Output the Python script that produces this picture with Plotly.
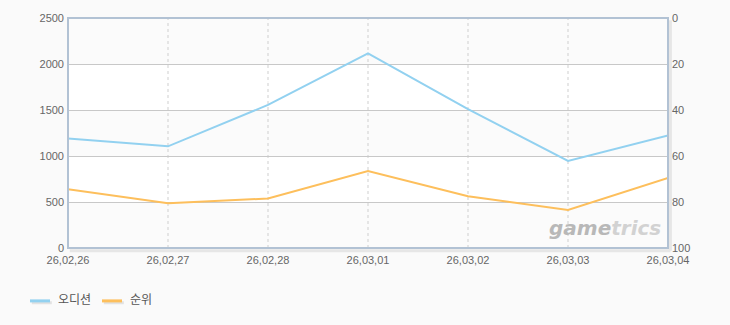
import plotly.graph_objects as go

dates = ["26,02,26", "26,02,27", "26,02,28", "26,03,01", "26,03,02", "26,03,03", "26,03,04"]
audition = [1190, 1105, 1555, 2115, 1510, 947, 1224]
rank = [74.5, 80.5, 78.5, 66.5, 77.5, 83.5, 69.5]
series_names = ["오디션", "순위"]
colors = ["#92d1f0", "#fdbf5c"]
left_ticks = [0, 500, 1000, 1500, 2000, 2500]
right_ticks = [0, 20, 40, 60, 80, 100]

xs = list(range(len(dates)))
font = "Liberation Sans, Noto Sans CJK KR, sans-serif"

fig = go.Figure()
fig.add_trace(go.Scatter(x=xs, y=audition, mode="lines", name=series_names[0],
                         line=dict(color=colors[0], width=2), yaxis="y"))
fig.add_trace(go.Scatter(x=xs, y=rank, mode="lines", name=series_names[1],
                         line=dict(color=colors[1], width=2), yaxis="y2"))

shapes = []
# alternating bands
for lo, hi in [(0, 500), (1000, 1500), (2000, 2500)]:
    shapes.append(dict(type="rect", xref="x domain", yref="y", x0=0, x1=1, y0=lo, y1=hi,
                       fillcolor="#fbfbfb", line=dict(width=0), layer="below"))
# dashed vertical gridlines
for x in xs[1:-1]:
    shapes.append(dict(type="line", xref="x", yref="y domain", x0=x, x1=x, y0=0, y1=1,
                       line=dict(color="#cfcfcf", width=1, dash="3px,3px"), layer="below"))
# shadow
shapes.append(dict(type="line", xref="paper", yref="paper", x0=1.004, x1=1.004, y0=-0.012, y1=0.99,
                   line=dict(color="#e6e6e6", width=3)))
shapes.append(dict(type="line", xref="paper", yref="paper", x0=0.003, x1=1.004, y0=-0.012, y1=-0.012,
                   line=dict(color="#e6e6e6", width=3)))
# frame
shapes.append(dict(type="rect", xref="paper", yref="paper", x0=0, x1=1, y0=0, y1=1,
                   line=dict(color="#b2c2d4", width=2)))

# custom legend
leg_y = -0.23
annotations = []
leg_items = [(30, 56), (102, 128)]
for (lx, tx), name, c in zip(leg_items, series_names, colors):
    x0 = (lx - 68) / 600
    x1 = (lx + 20 - 68) / 600
    shapes.append(dict(type="line", xref="paper", yref="paper", x0=x0 + 0.003, x1=x1 + 0.003,
                       y0=leg_y - 0.008, y1=leg_y - 0.008, line=dict(color="#e2e2e2", width=3)))
    shapes.append(dict(type="line", xref="paper", yref="paper", x0=x0, x1=x1,
                       y0=leg_y, y1=leg_y, line=dict(color=c, width=3)))
    annotations.append(dict(xref="paper", yref="paper", x=(tx - 68) / 600, y=leg_y + 0.005,
                            text=name, showarrow=False, xanchor="left", yanchor="middle",
                            font=dict(size=12, color="#555555", family=font)))

annotations.append(dict(xref="paper", yref="paper", x=0.895, y=0.085,
                        text="<b><i><span style='color:#b8b8b8'>game</span>"
                             "<span style='color:#d2d2d2'>trics</span></i></b>",
                        showarrow=False, xanchor="center", yanchor="middle",
                        font=dict(size=20, color="#c4c4c4", family="DejaVu Sans, sans-serif")))

tf = dict(size=11, color="#666666", family=font)
fig.update_layout(
    width=730, height=325,
    margin=dict(l=68, r=62, t=16, b=77),
    paper_bgcolor="#fafafa", plot_bgcolor="#ffffff",
    showlegend=False,
    font=dict(family=font, size=11, color="#666666"),
    xaxis=dict(range=[0, 6], tickvals=xs, ticktext=dates, showgrid=False, zeroline=False,
               ticks="", tickfont=tf, showline=False, ticklabelstandoff=4),
    yaxis=dict(range=[0, 2500], tickvals=left_ticks, showgrid=True, gridcolor="#c8c8c8",
               gridwidth=1, zeroline=False, ticks="", tickfont=tf,
               showline=False, ticklabelstandoff=3),
    yaxis2=dict(range=[100, 0], tickvals=right_ticks, overlaying="y", side="right",
                showgrid=False, zeroline=False, ticks="", tickfont=tf,
                showline=False, ticklabelstandoff=3),
    shapes=shapes, annotations=annotations,
)

fig.write_html("out.html")
